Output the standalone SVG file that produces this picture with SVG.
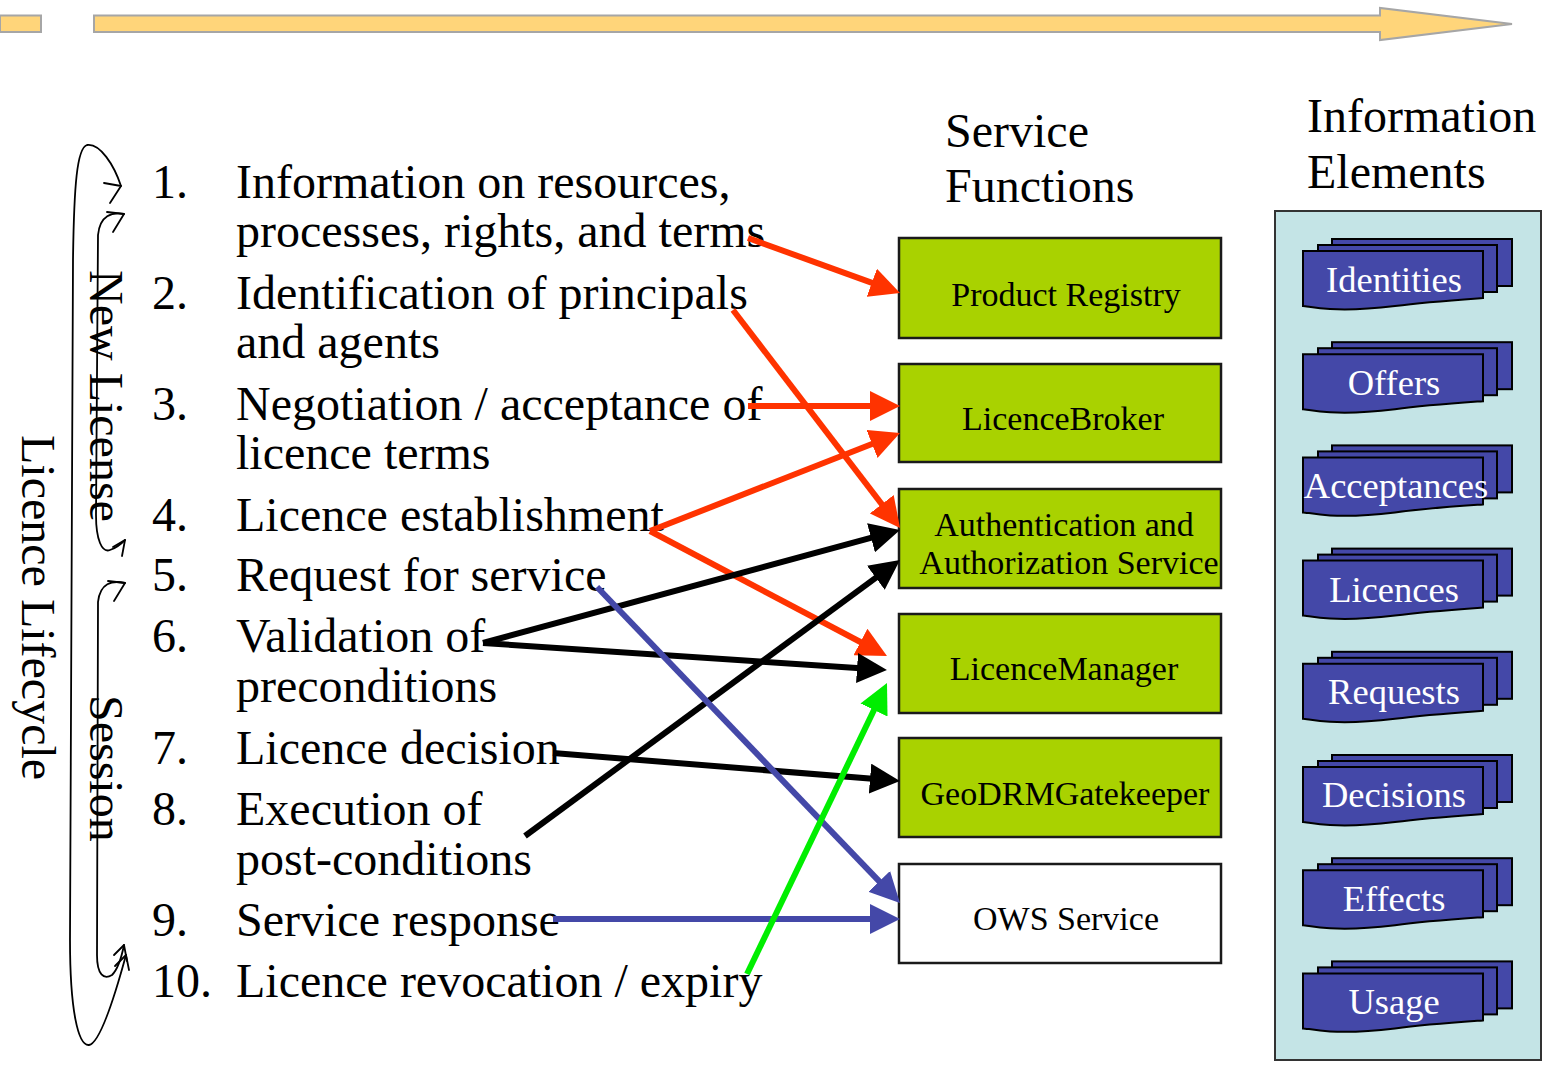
<svg xmlns="http://www.w3.org/2000/svg" width="1545" height="1078" viewBox="0 0 1545 1078">
<defs>
<style>
text{font-family:"Liberation Serif","Times New Roman",serif;fill:#000}
.list{font-size:48px}
.head{font-size:48px}
.fn{font-size:34px;text-anchor:middle}
.ie{font-size:36.5px;text-anchor:middle;fill:#fff}
.box{fill:#a9d200;stroke:#1a1a1a;stroke-width:2.5}
.owsbox{fill:#fff;stroke:#1a1a1a;stroke-width:2.5}
.doc{fill:#4448a8;stroke:#000;stroke-width:2}
.loop{fill:none;stroke:#000;stroke-width:1.8;stroke-linejoin:round;stroke-linecap:round}
.c{fill:none;stroke-width:6}
.red{stroke:#ff3300}
.blk{stroke:#000}
.blu{stroke:#4448a8}
.grn{stroke:#00ee00}
</style>
<marker id="mr" viewBox="0 0 10 10" refX="5" refY="5" markerWidth="5" markerHeight="5" orient="auto"><path d="M0,0 L10,5 L0,10 z" fill="#ff3300"/></marker>
<marker id="mk" viewBox="0 0 10 10" refX="5" refY="5" markerWidth="5" markerHeight="5" orient="auto"><path d="M0,0 L10,5 L0,10 z" fill="#000"/></marker>
<marker id="mb" viewBox="0 0 10 10" refX="5" refY="5" markerWidth="5" markerHeight="5" orient="auto"><path d="M0,0 L10,5 L0,10 z" fill="#4448a8"/></marker>
<marker id="mg" viewBox="0 0 10 10" refX="5" refY="5" markerWidth="5" markerHeight="5" orient="auto"><path d="M0,0 L10,5 L0,10 z" fill="#00ee00"/></marker>
<g id="docstack">
<rect class="doc" x="1332" y="239" width="180" height="47"/>
<rect class="doc" x="1318" y="245" width="179" height="47"/>
<path class="doc" d="M1303,251 H1483 V298 C1455,300 1425,302 1395,306 C1370,309 1345,310 1330,309 C1315,308 1306,306 1303,306 Z"/>
</g>
</defs>

<rect width="1545" height="1078" fill="#fff"/>

<!-- timeline arrow -->
<g id="timeline">
<rect x="0" y="15.5" width="41" height="16.5" fill="#ffd57a" stroke="#a6a6a6" stroke-width="2"/>
<path d="M94,15.5 H1380 V8 L1512,24 L1380,40 V32 H94 Z" fill="#ffd57a" stroke="#a6a6a6" stroke-width="2"/>
</g>

<!-- lifecycle loops -->
<g id="lifecycle">
<path class="loop" d="M121,186 C114,165 100,143 87,145 C77,148 74,185 73,260 L70,940 C70,1010 78,1046 89,1045 C101,1043 117,988 126,955"/>
<polyline class="loop" points="104,183 121,186 110,203"/>
<polyline class="loop" points="115,966 126,955 129,970"/>
<path class="loop" d="M124,214 C112,212 100,215 98,235 L96,515 C96,540 102,553 110,550 C116,548 120,545 125,540"/>
<polyline class="loop" points="107,212 124,214 113,232"/>
<polyline class="loop" points="113,547 125,540 122,556"/>
<path class="loop" d="M125,583 C112,580 100,583 98,602 L97,955 C97,975 104,980 112,975 C117,970 121,960 124,945"/>
<polyline class="loop" points="108,581 125,583 114,601"/>
<polyline class="loop" points="114,955 124,945 127,961"/>
<text class="head" transform="translate(22,435) rotate(90)">Licence Lifecycle</text>
<text class="head" transform="translate(90,270) rotate(90)">New License</text>
<text class="head" transform="translate(90,695) rotate(90)">Session</text>
</g>

<!-- list -->
<g id="steps" class="list">
<text class="list" x="152" y="198">1.</text><text class="list" x="236" y="198">Information on resources,</text>
<text class="list" x="236" y="247">processes, rights, and terms</text>
<text class="list" x="152" y="309">2.</text><text class="list" x="236" y="309">Identification of principals</text>
<text class="list" x="236" y="358">and agents</text>
<text class="list" x="152" y="420">3.</text><text class="list" x="236" y="420">Negotiation / acceptance of</text>
<text class="list" x="236" y="469">licence terms</text>
<text class="list" x="152" y="531">4.</text><text class="list" x="236" y="531">Licence establishment</text>
<text class="list" x="152" y="591">5.</text><text class="list" x="236" y="591">Request for service</text>
<text class="list" x="152" y="652">6.</text><text class="list" x="236" y="652">Validation of</text>
<text class="list" x="236" y="702">preconditions</text>
<text class="list" x="152" y="764">7.</text><text class="list" x="236" y="764">Licence decision</text>
<text class="list" x="152" y="825">8.</text><text class="list" x="236" y="825">Execution of</text>
<text class="list" x="236" y="875">post-conditions</text>
<text class="list" x="152" y="936">9.</text><text class="list" x="236" y="936">Service response</text>
<text class="list" x="152" y="997">10.</text><text class="list" x="236" y="997">Licence revocation / expiry</text>
</g>

<!-- headers -->
<text class="head" x="945" y="147">Service</text>
<text class="head" x="945" y="202">Functions</text>
<text class="head" x="1307" y="132">Information</text>
<text class="head" x="1307" y="188">Elements</text>

<!-- service function nodes -->
<g id="productRegistry"><rect class="box" x="899" y="238" width="322" height="100"/><text class="fn" x="1066" y="306">Product Registry</text></g>
<g id="licenceBroker"><rect class="box" x="899" y="364" width="322" height="98"/><text class="fn" x="1063" y="430">LicenceBroker</text></g>
<g id="authService"><rect class="box" x="899" y="489" width="322" height="99"/><text class="fn" x="1064" y="536">Authentication and</text><text class="fn" x="1069" y="574">Authorization Service</text></g>
<g id="licenceManager"><rect class="box" x="899" y="614" width="322" height="99"/><text class="fn" x="1064" y="680">LicenceManager</text></g>
<g id="gatekeeper"><rect class="box" x="899" y="738" width="322" height="99"/><text class="fn" x="1065" y="805">GeoDRMGatekeeper</text></g>
<g id="owsService"><rect class="owsbox" x="899" y="864" width="322" height="99"/><text class="fn" x="1066" y="930">OWS Service</text></g>

<!-- information elements -->
<g id="infoPanel"><rect x="1275" y="211" width="266" height="849" fill="#c4e4e6" stroke="#333" stroke-width="2"/></g>
<g id="identities"><use href="#docstack"/><text class="ie" x="1394" y="292">Identities</text></g>
<g id="offers"><use href="#docstack" transform="translate(0,103.2)"/><text class="ie" x="1394" y="395">Offers</text></g>
<g id="acceptances"><use href="#docstack" transform="translate(0,206.4)"/><text class="ie" x="1396" y="498">Acceptances</text></g>
<g id="licences"><use href="#docstack" transform="translate(0,309.6)"/><text class="ie" x="1394" y="602">Licences</text></g>
<g id="requests"><use href="#docstack" transform="translate(0,412.8)"/><text class="ie" x="1394" y="704">Requests</text></g>
<g id="decisions"><use href="#docstack" transform="translate(0,516)"/><text class="ie" x="1394" y="807">Decisions</text></g>
<g id="effects"><use href="#docstack" transform="translate(0,619.2)"/><text class="ie" x="1394" y="911">Effects</text></g>
<g id="usage"><use href="#docstack" transform="translate(0,722.4)"/><text class="ie" x="1394" y="1014">Usage</text></g>

<!-- connectors -->
<g id="connectors">
<line class="c red" x1="748" y1="238" x2="885.9" y2="287.9" marker-end="url(#mr)"/>
<line class="c red" x1="733" y1="310" x2="890.9" y2="516.1" marker-end="url(#mr)"/>
<line class="c red" x1="748" y1="406" x2="885" y2="406" marker-end="url(#mr)"/>
<line class="c red" x1="650" y1="531" x2="886" y2="438.5" marker-end="url(#mr)"/>
<line class="c red" x1="650" y1="531" x2="873.7" y2="649" marker-end="url(#mr)"/>
<line class="c blk" x1="483" y1="643" x2="885.5" y2="533.9" marker-end="url(#mk)"/>
<line class="c blk" x1="483" y1="643" x2="872" y2="669" marker-end="url(#mk)"/>
<line class="c blk" x1="525" y1="836" x2="887.9" y2="568.9" marker-end="url(#mk)"/>
<line class="c blk" x1="553" y1="753" x2="885" y2="779.8" marker-end="url(#mk)"/>
<line class="c blu" x1="597" y1="587" x2="889.6" y2="892.2" marker-end="url(#mb)"/>
<line class="c blu" x1="553" y1="919" x2="885" y2="919" marker-end="url(#mb)"/>
<line class="c grn" x1="747" y1="974" x2="880.5" y2="696.5" marker-end="url(#mg)"/>
</g>
</svg>
